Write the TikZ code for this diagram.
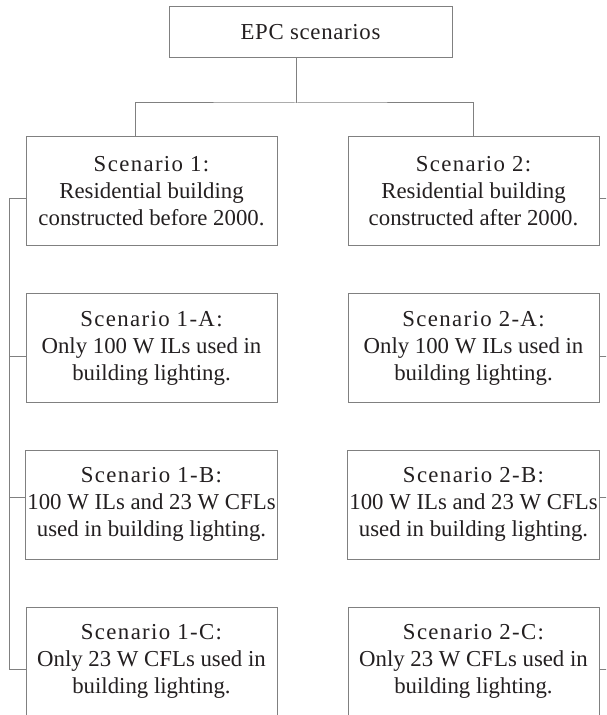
\documentclass[tikz,border=0pt]{standalone}
\usepackage{fontspec}
\setmainfont{Liberation Serif}
\usetikzlibrary{positioning}
\definecolor{lineGray}{HTML}{808080}
\definecolor{textDark}{HTML}{231F20}
\newcommand{\scen}[1]{{\addfontfeature{LetterSpace=6}#1}}

\begin{document}
\begin{tikzpicture}[x=0.5pt, y=-0.5pt,
    box/.style={draw=lineGray, line width=0.5pt, text=textDark, align=center,
      minimum width=125.5pt, minimum height=54.5pt, inner sep=1pt,
      font=\fontsize{11.4}{13.5}\selectfont},
    link/.style={draw=lineGray, line width=0.5pt}]
    \useasboundingbox (0,0) rectangle (606,715);
    \clip (0,0) rectangle (606,715);

    % raiz
    \node[box, minimum width=141.5pt, minimum height=25.5pt] (epc) at (310.5,32.5)
      {\addfontfeature{LetterSpace=3}EPC scenarios};

    % escenarios principales
    \node[box] (s1) at (151.5,191.5)
      {\scen{Scenario 1:}\\Residential building\\constructed before 2000.};
    \node[box] (s2) at (473.5,191.5)
      {\scen{Scenario 2:}\\Residential building\\constructed after 2000.};

    % subescenarios
    \node[box] (s1a) at (151.5,348)
      {\scen{Scenario 1-A:}\\Only 100 W ILs used in\\building lighting.};
    \node[box] (s2a) at (473.5,348)
      {\scen{Scenario 2-A:}\\Only 100 W ILs used in\\building lighting.};
    \node[box] (s1b) at (151.5,504.5)
      {\scen{Scenario 1-B:}\\100 W ILs and 23 W CFLs\\used in building lighting.};
    \node[box] (s2b) at (473.5,504.5)
      {\scen{Scenario 2-B:}\\100 W ILs and 23 W CFLs\\used in building lighting.};
    \node[box] (s1c) at (151.5,661.5)
      {\scen{Scenario 1-C:}\\Only 23 W CFLs used in\\building lighting.};
    \node[box] (s2c) at (473.5,661.5)
      {\scen{Scenario 2-C:}\\Only 23 W CFLs used in\\building lighting.};

    % ramas superiores
    \coordinate (fork) at (296,103);
    \coordinate (forkL) at (135,103);
    \draw[link] (epc.south -| fork) -- (fork);
    \draw[link] (s1.north -| forkL) |- (fork) -| (s2.north);

    % columna izquierda
    \coordinate (spineL) at ([xshift=-8pt, yshift=-4pt]s1c.west);
    \draw[link] ([yshift=-3.5pt]s1.west) -| (spineL);
    \draw[link] ([yshift=-4pt]s1a.west) -- ++(-16,0);
    \draw[link] ([yshift=3.5pt]s1b.west) -- ++(-16,0);
    \draw[link] ([yshift=-4pt]s1c.west) -- (spineL);

    % columna derecha
    \draw[link] ([yshift=-3.5pt]s2.east) -- ++(10,0);
    \draw[link] ([yshift=-4pt]s2a.east) -- ++(10,0);
    \draw[link] ([yshift=3.5pt]s2b.east) -- ++(10,0);
    \draw[link] ([yshift=-4pt]s2c.east) -- ++(10,0);
  \end{tikzpicture}
\end{document}
